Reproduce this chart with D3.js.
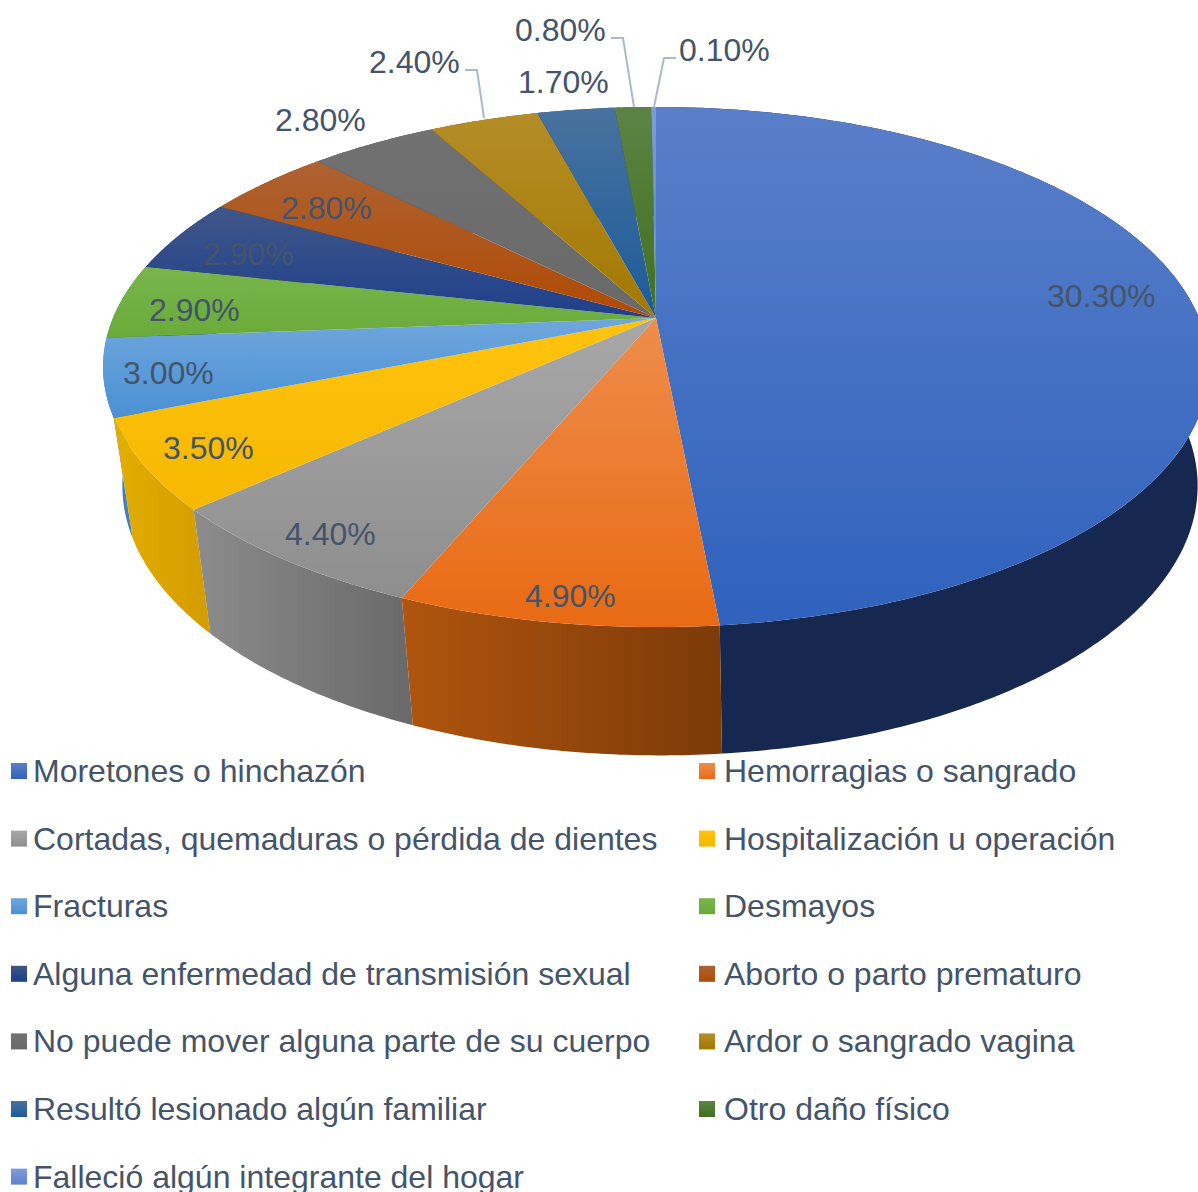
<!DOCTYPE html>
<html>
<head>
<meta charset="utf-8">
<script src="https://cdn.jsdelivr.net/npm/d3@7"></script>
<style>
  html, body { margin: 0; padding: 0; background: #fff; }
  svg { display: block; }
  text { font-family: "Liberation Sans", Arial, sans-serif; font-size: 32px; fill: #44546a; }
</style>
</head>
<body>
<div class="visualisation"></div>
<script>
var categories = ["Moretones o hinchazón", "Hemorragias o sangrado", "Cortadas, quemaduras o pérdida de dientes",
  "Hospitalización u operación", "Fracturas", "Desmayos", "Alguna enfermedad de transmisión sexual",
  "Aborto o parto prematuro", "No puede mover alguna parte de su cuerpo", "Ardor o sangrado vagina",
  "Resultó lesionado algún familiar", "Otro daño físico", "Falleció algún integrante del hogar"];
var values = [30.3, 4.9, 4.4, 3.5, 3.0, 2.9, 2.9, 2.8, 2.8, 2.4, 1.7, 0.8, 0.1];

// top face gradient, light to dark
var topLight = ["#5a7fc9", "#ee8d4c", "#a8a8a8", "#ffc30f", "#6fa7dd", "#78b54c", "#3f5688", "#ad6232", "#717171", "#b58d28", "#48729f", "#5c8344", "#7f9bdc"];
var topDark = ["#2f62bd", "#e96a13", "#8e8e8e", "#f6b800", "#4a90d4", "#69ab3a", "#1e3f8c", "#b04a04", "#696969", "#a27800", "#1c5b98", "#40701f", "#5c82cc"];
// side wall gradient, left to right
var wallLeft = ["#16284f", "#b0550f", "#8c8c8c", "#e3ae00", "#3f80bd", "#4f8a2a", "#162d63", "#7e3a08", "#4e4e4e", "#7e5d03", "#164770", "#305716", "#5f78a8"];
var wallRight = ["#16284f", "#7c3a08", "#696969", "#d39c00", "#3f80bd", "#4f8a2a", "#162d63", "#7e3a08", "#4e4e4e", "#7e5d03", "#164770", "#305716", "#5f78a8"];

// data label placement (left x, baseline y)
var labelPos = [[1047, 307], [525, 607], [285, 545], [163, 459], [123, 384], [149, 321], [203, 265], [281, 219], [275, 131], [369, 73], [518, 93], [515, 41], [679, 61]];
// leader lines for the labels outside of the pie
var leaders = [
  [[465, 70], [477, 70], [484, 118]],
  [[611, 38], [623, 38], [634, 107]],
  [[676, 58], [664, 58], [654, 107]]
];

var width = 1198, height = 1192;

var svg = d3.select(".visualisation").append("svg")
    .attr("width", width)
    .attr("height", height);
var defs = svg.append("defs");

// the tilted pie is a circle under perspective, so both faces go through these
var topFace = {cx: 656, cy: 318, rx: 543, ry: 250.8, k: 0.1885};
var bottomFace = {cx: 660, cy: 435, rx: 528, ry: 260, k: 0.1885};

function project(face, a) {
  var u = Math.sin(a), v = -Math.cos(a), d = 1 - face.k * v;
  return [face.cx + face.rx * u / d, face.cy + face.ry * v / d];
}

function arcPoints(face, a0, a1) {
  var n = Math.max(2, Math.ceil((a1 - a0) / 0.01));
  return d3.range(n + 1).map(function(i) { return project(face, a0 + (a1 - a0) * i / n); });
}

var line = d3.line();
var pie = d3.pie().sort(null).value(function(d) { return d; });
var arcs = pie(values);

categories.forEach(function(c, i) {
  var g = defs.append("linearGradient").attr("id", "top" + i).attr("x1", 0).attr("y1", 0).attr("x2", 0).attr("y2", 1);
  g.append("stop").attr("offset", 0).attr("stop-color", topLight[i]);
  g.append("stop").attr("offset", 1).attr("stop-color", topDark[i]);
  var w = defs.append("linearGradient").attr("id", "wall" + i).attr("x1", 0).attr("y1", 0).attr("x2", 1).attr("y2", 0);
  w.append("stop").attr("offset", 0).attr("stop-color", wallLeft[i]);
  w.append("stop").attr("offset", 1).attr("stop-color", wallRight[i]);
});

var pieGroup = svg.append("g").style("filter", "blur(0.5px)");

// walls first, the ones further from the front go underneath
var wallOrder = arcs.slice().sort(function(a, b) {
  return Math.abs((b.startAngle + b.endAngle) / 2 - Math.PI) - Math.abs((a.startAngle + a.endAngle) / 2 - Math.PI);
});
pieGroup.selectAll("path.wall").data(wallOrder).enter().append("path")
    .attr("class", "wall")
    .attr("fill", function(d) { return "url(#wall" + d.index + ")"; })
    .attr("d", function(d) {
      var upper = arcPoints(topFace, d.startAngle, d.endAngle);
      var lower = arcPoints(bottomFace, d.startAngle, d.endAngle).reverse();
      return line(upper.concat(lower)) + "Z";
    });

pieGroup.selectAll("path.slice").data(arcs).enter().append("path")
    .attr("class", "slice")
    .attr("fill", function(d) { return "url(#top" + d.index + ")"; })
    .attr("d", function(d) {
      var pts = arcPoints(topFace, d.startAngle, d.endAngle);
      return line([[topFace.cx, topFace.cy]].concat(pts)) + "Z";
    });

svg.selectAll("path.leader").data(leaders).enter().append("path")
    .attr("class", "leader")
    .attr("fill", "none")
    .attr("stroke", "#adb9ca")
    .attr("stroke-width", 2)
    .attr("d", line);

svg.selectAll("text.label").data(values).enter().append("text")
    .attr("class", "label")
    .attr("x", function(d, i) { return labelPos[i][0]; })
    .attr("y", function(d, i) { return labelPos[i][1]; })
    .text(function(d) { return d.toFixed(2) + "%"; });

// legend, two columns, fills across then down
var legendX = d3.scalePoint().domain([0, 1]).range([11, 699]);
var legendY = d3.scaleLinear().domain([0, 6]).range([782, 1187.6]);

var legend = svg.selectAll("g.legend").data(categories).enter().append("g")
    .attr("class", "legend")
    .attr("transform", function(d, i) {
      return "translate(" + legendX(i % 2) + "," + legendY(Math.floor(i / 2)) + ")";
    });
legend.append("rect")
    .attr("y", -19)
    .attr("width", 16)
    .attr("height", 16)
    .attr("fill", function(d, i) { return "url(#top" + i + ")"; });
legend.append("text")
    .attr("x", function(d, i) { return i % 2 ? 25 : 22; })
    .text(function(d) { return d; });
</script>
</body>
</html>
